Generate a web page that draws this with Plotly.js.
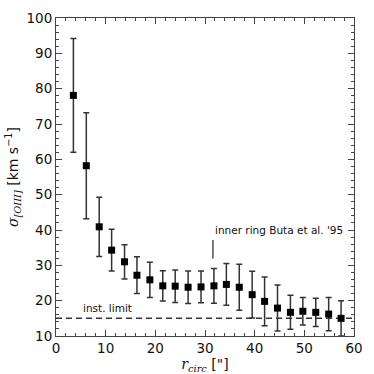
<!DOCTYPE html>
<html>
<head>
<meta charset="utf-8">
<script src="https://cdn.plot.ly/plotly-3.0.1.min.js"></script>
<style>
  html, body { margin: 0; padding: 0; background: #fff; }
  #chart { width: 374px; height: 374px; }
</style>
</head>
<body>
<div id="chart"></div>
<script>
// circularised radius (arcsec) and [OIII] velocity dispersion (km/s)
var rCirc = [3.5, 6.1, 8.7, 11.2, 13.8, 16.3, 18.9, 21.5, 24.0, 26.6, 29.2,
             31.8, 34.3, 36.9, 39.5, 42.0, 44.6, 47.2, 49.7, 52.3, 54.9, 57.4];
var sigma = [78.1, 58.2, 40.9, 34.3, 31.0, 27.2, 25.9, 24.2, 24.1, 23.8, 23.9,
             24.2, 24.6, 23.8, 21.7, 19.8, 17.9, 16.7, 17.0, 16.7, 16.2, 15.0];
var sigmaErr = [16.1, 15.0, 8.4, 5.9, 4.85, 5.2, 5.0, 4.3, 4.6, 4.6, 4.5,
                4.9, 5.9, 6.5, 6.6, 6.9, 6.5, 4.8, 3.9, 4.0, 4.7, 5.0];

var instLimit = 15;       // instrumental limit, km/s
var ringRadius = 31.6;    // inner ring radius (Buta et al. '95)
var xRange = [0, 60];
var yRange = [10, 100];

var axisColor = '#444';
var tickFont = {family: 'DejaVu Sans', size: 13.5, color: '#111'};

var limitTrace = {
  x: xRange,
  y: [instLimit, instLimit],
  mode: 'lines',
  line: {color: '#333', width: 1.5, dash: '6px,4px'},
  hoverinfo: 'skip'
};

var dataTrace = {
  x: rCirc,
  y: sigma,
  mode: 'markers',
  marker: {symbol: 'square', size: 7, color: '#000'},
  error_y: {type: 'data', array: sigmaErr, visible: true,
            color: '#333', thickness: 1.5, width: 3}
};

var layout = {
  width: 374,
  height: 374,
  showlegend: false,
  paper_bgcolor: '#fff',
  plot_bgcolor: '#fff',
  margin: {l: 56, r: 20, t: 18, b: 38},
  font: {family: 'DejaVu Sans', color: '#111'},
  xaxis: {
    range: xRange,
    dtick: 10,
    ticks: 'inside',
    ticklen: 6,
    tickcolor: axisColor,
    showline: true,
    linecolor: axisColor,
    linewidth: 1,
    mirror: 'allticks',
    showgrid: false,
    zeroline: false,
    tickfont: tickFont,
    minor: {dtick: 2, ticks: 'inside', ticklen: 3, tickcolor: axisColor},
    title: {
      text: '<span style="font-family:DejaVu Serif"><i>r</i><sub><i>circ</i></sub></span> ["]',
      font: {size: 14},
      standoff: 1
    }
  },
  yaxis: {
    range: yRange,
    dtick: 10,
    ticks: 'inside',
    ticklen: 6,
    tickcolor: axisColor,
    showline: true,
    linecolor: axisColor,
    linewidth: 1,
    mirror: 'allticks',
    showgrid: false,
    zeroline: false,
    tickfont: tickFont,
    minor: {dtick: 2, ticks: 'inside', ticklen: 3, tickcolor: axisColor},
    title: {
      text: '<span style="font-family:DejaVu Serif"><i>σ</i><sub><i>[OIII]</i></sub></span> [km s<sup>−1</sup>]',
      font: {size: 14},
      standoff: 4
    }
  },
  shapes: [{
    type: 'line', xref: 'x', yref: 'y',
    x0: ringRadius, x1: ringRadius, y0: 31.9, y1: 37.2,
    line: {color: '#222', width: 1.2}
  }],
  annotations: [{
    x: ringRadius, y: 40, xref: 'x', yref: 'y',
    xanchor: 'left', yanchor: 'middle', showarrow: false,
    text: "inner ring Buta et al. '95",
    font: {family: 'DejaVu Sans', size: 10.5, color: '#111'}
  }, {
    x: 5.1, y: 17.8, xref: 'x', yref: 'y',
    xanchor: 'left', yanchor: 'middle', showarrow: false,
    text: 'inst. limit',
    font: {family: 'DejaVu Sans', size: 10.5, color: '#111'}
  }]
};

Plotly.newPlot('chart', [limitTrace, dataTrace], layout, {displayModeBar: false, staticPlot: true});
</script>
</body>
</html>
